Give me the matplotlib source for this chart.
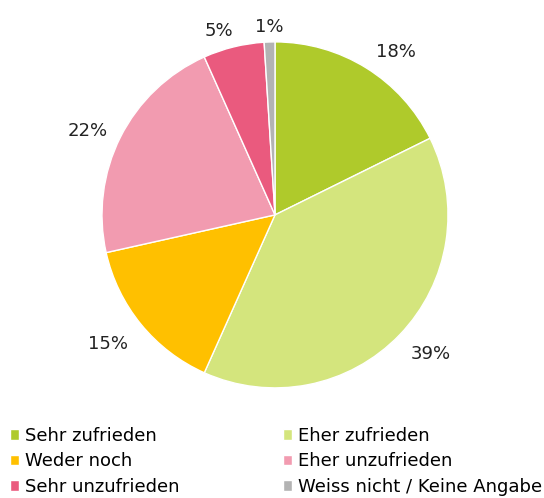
import numpy as np
import matplotlib.pyplot as plt

categories = ['Sehr zufrieden', 'Eher zufrieden', 'Weder noch',
              'Eher unzufrieden', 'Sehr unzufrieden', 'Weiss nicht / Keine Angabe']
values = [17.7, 39.0, 14.8, 21.8, 5.7, 1.0]
pct_labels = ['18%', '39%', '15%', '22%', '5%', '1%']
colors = ['#AFCA2B', '#D4E57D', '#FFC000', '#F29BB0', '#EA5A7E', '#B3B3B3']

# label placement: distance in radii and a small angle nudge (degrees)
label_dist = [1.18, 1.2, 1.21, 1.19, 1.12, 1.10]
label_nudge = [-4.5, 2.6, -2, 2, 3, 0]

fig = plt.figure(figsize=(5.44, 4.98), dpi=100)
ax = fig.add_axes([0.1875, 0.221, 0.636, 0.695])

wedges, texts = ax.pie(values, colors=colors, startangle=90, counterclock=False,
                       labels=pct_labels, labeldistance=1.0,
                       wedgeprops=dict(edgecolor='white', linewidth=1),
                       textprops=dict(fontsize=13, color='#222222'))
for w, t, d, n in zip(wedges, texts, label_dist, label_nudge):
    ang = np.deg2rad((w.theta1 + w.theta2) / 2 + n)
    t.set_position((d * np.cos(ang), d * np.sin(ang)))
    t.set_ha('center')
    t.set_va('center_baseline')

ax.set_xlim(-1, 1)
ax.set_ylim(-1, 1)
ax.set_aspect('equal')
ax.axis('off')

# legend fills column-wise, so reorder to get rows like the reference
order = [0, 2, 4, 1, 3, 5]
fig.legend([wedges[i] for i in order], [categories[i] for i in order],
           ncol=2, loc='lower left', bbox_to_anchor=(0.018, 0.004),
           frameon=False, fontsize=13, handlelength=0.5, handleheight=0.5,
           handletextpad=0.36, columnspacing=5.7, labelspacing=0.42,
           borderpad=0, borderaxespad=0)

fig.savefig('out.png', dpi=100)
